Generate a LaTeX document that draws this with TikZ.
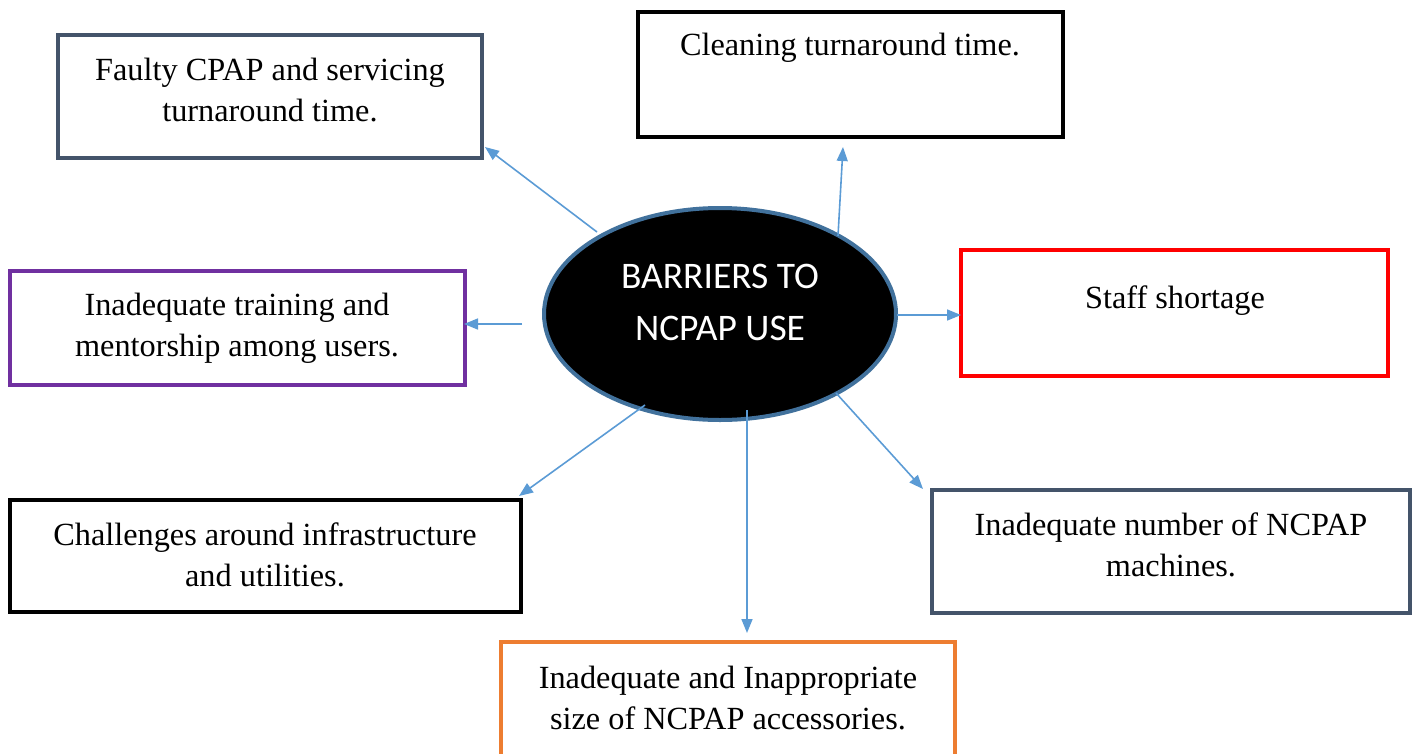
\documentclass[tikz,border=0pt]{standalone}
\usepackage{fontspec}
\setmainfont{Liberation Serif}
\newfontfamily\calib{Carlito}
\usetikzlibrary{arrows.meta}
\definecolor{slate}{HTML}{44546A}
\definecolor{violet7}{HTML}{7030A0}
\definecolor{orange7}{HTML}{ED7D31}
\definecolor{linkblue}{HTML}{5B9BD5}
\definecolor{rimblue}{HTML}{41719C}
\begin{document}
\begin{tikzpicture}[x=1pt,y=-1pt,
  barrier/.style={draw, line width=4pt, fill=white},
  boxtext/.style={font=\fontsize{32.3}{41}\selectfont, align=center, inner sep=0pt},
  link/.style={draw=linkblue, line width=1.6pt, -{Triangle[length=14pt,width=11pt]}}]
\useasboundingbox (0,0) rectangle (1417,753);
\clip (0,0) rectangle (1417,753);

% outcome boxes
\draw[barrier, draw=slate] (58,35) rectangle (482,158);
\draw[barrier, draw=black] (638,12) rectangle (1063,137);
\draw[barrier, draw=red] (961,250) rectangle (1388,376);
\draw[barrier, draw=violet7] (10,271) rectangle (465,385);
\draw[barrier, draw=black] (10,500) rectangle (521,612);
\draw[barrier, draw=slate] (932,490) rectangle (1410,613);
\draw[barrier, draw=orange7] (501,642) rectangle (955,770);

% box captions
\node[boxtext] (faulty) at (270,90) {Faulty CPAP and servicing\\turnaround time.};
\node[boxtext] (clean) at (850,48) {Cleaning turnaround time.};
\node[boxtext] (staff) at (1175,301) {Staff shortage};
\node[boxtext] (train) at (237,328) {Inadequate training and\\mentorship among users.};
\node[boxtext] (infra) at (265,555) {Challenges around infrastructure\\and utilities.};
\node[boxtext] (machines) at (1171,545) {Inadequate number of NCPAP\\machines.};
\node[boxtext] (access) at (728,698) {Inadequate and Inappropriate\\size of NCPAP accessories.};

% central ellipse
\draw[rimblue, line width=4pt, fill=black] (720,314) ellipse [x radius=176, y radius=106];
\node[font=\calib\fontsize{37.5}{52}\selectfont, text=white, align=center, inner sep=0pt] (hub) at (720,302) {BARRIERS TO\\NCPAP USE};

% connector end points
\coordinate (s1) at (597,232); \coordinate (e1) at (485,147);
\coordinate (s2) at (838,236); \coordinate (e2) at (843,147);
\coordinate (s3) at (897,315); \coordinate (e3) at (961,315);
\coordinate (s4) at (522,324); \coordinate (e4) at (464,324);
\coordinate (s5) at (645,405); \coordinate (e5) at (519,496);
\coordinate (s6) at (747,410); \coordinate (e6) at (747,633);
\coordinate (s7) at (836,393); \coordinate (e7) at (923,489);

\draw[link] (s1) -- (e1);
\draw[link] (s2) -- (e2);
\draw[link] (s3) -- (e3);
\draw[link] (s4) -- (e4);
\draw[link] (s5) -- (e5);
\draw[link] (s6) -- (e6);
\draw[link] (s7) -- (e7);
\end{tikzpicture}
\end{document}
